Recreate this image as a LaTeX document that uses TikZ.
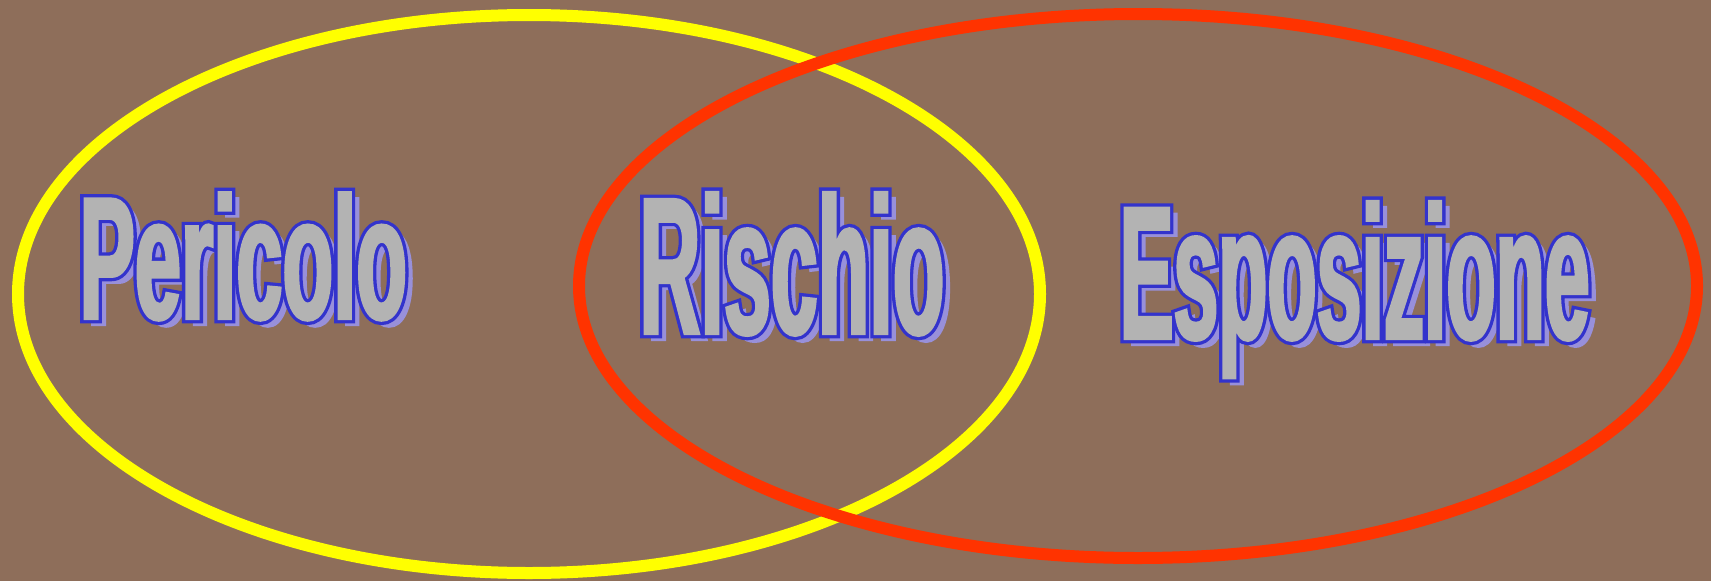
\documentclass[tikz,border=0pt]{standalone}
\usepackage{fontspec}
\setmainfont{Liberation Sans}
\usepackage{xcolor}

\definecolor{bgbrown}{RGB}{142,110,90}
\definecolor{ringyellow}{RGB}{255,255,0}
\definecolor{ringred}{RGB}{255,51,0}
\definecolor{wordfill}{RGB}{179,179,179}
\definecolor{wordshade}{RGB}{152,144,218}
\newcommand{\lineRG}{0.2 0.2 0.8}
\newcommand{\fillRG}{0.702 0.702 0.702}
\newcommand{\shadeRG}{0.596 0.565 0.855}

% #1 font size, #2 stretch, #3 text
\newcommand{\shadeword}[3]{{\fontsize{#1}{#1}\selectfont\bfseries
  \addfontfeatures{FakeStretch=#2}\color{wordshade}%
  \special{pdf:literal direct \shadeRG\space RG 2 Tr 3 w 0 j 4 M}#3%
  \special{pdf:literal direct 0 Tr}}}
\newcommand{\faceword}[3]{{\fontsize{#1}{#1}\selectfont\bfseries
  \addfontfeatures{FakeStretch=#2}\color{wordfill}%
  \rlap{\special{pdf:literal direct \lineRG\space RG 2 Tr 9.6 w 0 j 4 M}#3}%
  \special{pdf:literal direct \fillRG\space RG 2 Tr 3 w 0 j 4 M}#3%
  \special{pdf:literal direct 0 Tr}}}

\begin{document}
\begin{tikzpicture}[
        x=1pt, y=-1pt,
        ring/.style={line width=12pt},
        word/.style={inner sep=0pt, anchor=base west}
    ]
        \useasboundingbox (0,0) rectangle (1711,581);
        \fill[bgbrown] (0,0) rectangle (1711,581);

        % Rings
        \draw[ring, ringyellow] (529,294) ellipse [x radius=511, y radius=279];
        \draw[ring, ringred] (1138,286) ellipse [x radius=559, y radius=272];

        % Pericolo
        \node[word] (pericolo-s) at (86.8,324.6) {\shadeword{174}{0.477}{Pericolo}};
        \node[word] (pericolo) at (79.3,318.6) {\faceword{174}{0.477}{Pericolo}};

        % Rischio
        \node[word] (rischio-s) at (646.7,339.6) {\shadeword{195}{0.433}{Rischio}};
        \node[word] (rischio) at (639.2,333.6) {\faceword{195}{0.433}{Rischio}};

        % Esposizione
        \node[word] (esposizione-s) at (1127,344.6) {\shadeword{189.5}{0.425}{Esposizione}};
        \node[word] (esposizione) at (1119.5,338.6) {\faceword{189.5}{0.425}{Esposizione}};
    \end{tikzpicture}
\end{document}
